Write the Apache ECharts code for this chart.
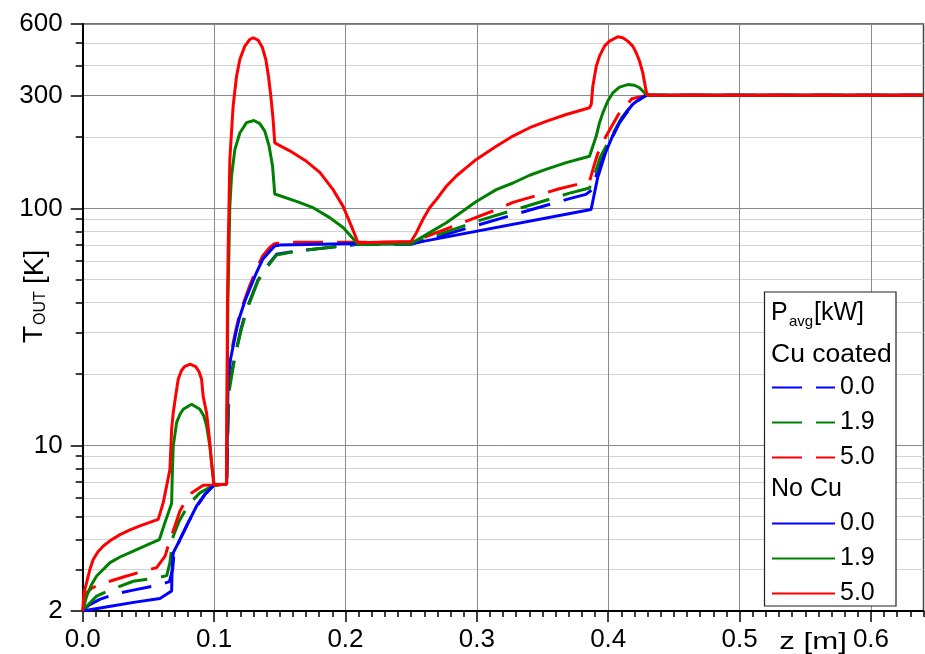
<!DOCTYPE html>
<html>
<head>
<meta charset="utf-8">
<script src="https://cdn.jsdelivr.net/npm/echarts@6/dist/echarts.min.js"></script>
<style>
html,body{margin:0;padding:0;background:#fff;}
#chart{width:925px;height:654px;}
</style>
</head>
<body>
<div id="chart"></div>
<script>
// ---- tick values ----
const xMajorTicks = [0, 0.1, 0.2, 0.3, 0.4, 0.5, 0.6];
const yMajorTicks = [2, 10, 100, 300, 600];
const yMinorTicks = [3, 4, 5, 6, 7, 8, 9, 20, 30, 40, 50, 60, 70, 80, 90, 200, 400, 500];

// ---- legend names ----
const powerLabels = ['0.0', '1.9', '5.0'];

// ---- Cu coated (dashed) : [z (m), T (K)] ----
const cu00 = [[0,2],[0.005,2.12],[0.013,2.24],[0.025,2.36],[0.0385,2.45],[0.0583,2.58],[0.066,2.66],[0.0685,3.0],[0.0695,3.52],[0.074,4.0],[0.0803,4.72],[0.0867,5.5],[0.093,6.2],[0.1,6.8],[0.1095,6.85],[0.1105,12],[0.1115,18],[0.1158,23.8],[0.1205,31],[0.1247,37.5],[0.1335,50],[0.1424,59],[0.1475,64],[0.1627,66],[0.198,69.3],[0.2096,70.5],[0.25,70.5],[0.3022,85.5],[0.3706,110],[0.383,114.6],[0.388,120],[0.392,145],[0.398,175],[0.4086,230],[0.4187,275],[0.4289,300],[0.64,300]];
const cu19 = [[0,2],[0.004,2.12],[0.0106,2.31],[0.0208,2.45],[0.0385,2.67],[0.0583,2.77],[0.064,2.82],[0.0664,3.2],[0.0689,4.14],[0.0735,4.8],[0.0778,5.28],[0.0835,5.85],[0.0892,6.3],[0.1,6.8],[0.1095,6.85],[0.1105,12],[0.1115,17],[0.1158,23.5],[0.1205,30.5],[0.1247,37],[0.1335,49.5],[0.1424,58.5],[0.1475,63.5],[0.1627,66],[0.198,69.5],[0.2096,70.5],[0.25,70.8],[0.3022,89],[0.3706,116],[0.3858,122],[0.389,135],[0.394,165],[0.4,190],[0.41,240],[0.42,282],[0.429,300],[0.64,300]];
const cu50 = [[0,2],[0.001,2.15],[0.003,2.39],[0.007,2.5],[0.013,2.59],[0.0335,2.81],[0.0563,3.05],[0.0627,3.41],[0.0665,4.0],[0.0702,4.57],[0.074,5.28],[0.0785,5.85],[0.0829,6.3],[0.0917,6.78],[0.1,6.8],[0.1095,6.85],[0.11,15],[0.1105,19],[0.1125,23.5],[0.1145,27],[0.117,31.5],[0.1196,36],[0.127,47],[0.132,55],[0.137,63],[0.1424,68.5],[0.146,71],[0.16,72],[0.2096,72],[0.25,72],[0.2718,80],[0.3122,97.5],[0.3275,106],[0.34,111],[0.3628,121],[0.3757,126],[0.3858,130],[0.389,150],[0.392,170],[0.398,200],[0.408,250],[0.418,290],[0.429,300],[0.64,300]];

// ---- No Cu (solid) ----
const noCu00 = [[0,2],[0.02,2.09],[0.04,2.18],[0.0588,2.26],[0.0677,2.43],[0.068,2.95],[0.0689,3.52],[0.074,4.0],[0.0803,4.72],[0.0867,5.55],[0.093,6.21],[0.1,6.8],[0.1095,6.85],[0.1102,12],[0.1107,19.6],[0.1125,23.1],[0.1145,26.2],[0.1171,30.8],[0.1196,35],[0.1234,40.6],[0.127,45.5],[0.1322,53.5],[0.137,61],[0.1424,66],[0.146,69.3],[0.15,70],[0.21,71.1],[0.25,71],[0.387,99],[0.392,135],[0.398,172],[0.4035,203],[0.4086,230],[0.4137,254],[0.4187,275],[0.424,290],[0.429,300],[0.64,300]];
const noCu19 = [[0,2],[0.0017,2.17],[0.003,2.31],[0.0068,2.59],[0.0106,2.81],[0.0208,3.2],[0.0284,3.38],[0.0385,3.58],[0.0487,3.79],[0.0583,4.0],[0.0626,4.72],[0.0677,5.7],[0.0681,7.2],[0.0689,9.9],[0.0715,12.5],[0.074,13.5],[0.0765,14.2],[0.0829,14.9],[0.0892,14.2],[0.0922,13.3],[0.0943,12.1],[0.0968,9.9],[0.0983,8.2],[0.1,6.8],[0.1095,6.85],[0.1105,40],[0.112,102],[0.1133,137],[0.1158,177],[0.1196,208],[0.1247,230],[0.1303,235],[0.1348,228],[0.1386,212],[0.1419,183],[0.1445,151],[0.1462,115],[0.1475,113],[0.1627,107],[0.1754,100.7],[0.188,91.4],[0.1982,83],[0.2096,70.5],[0.25,71],[0.2641,79],[0.2768,87],[0.2895,97.5],[0.2996,107],[0.3148,120],[0.3275,128],[0.3402,138],[0.3526,146],[0.368,156],[0.3858,166],[0.3883,183],[0.3909,202],[0.3934,230],[0.3959,253],[0.3997,284],[0.4035,307],[0.4086,325],[0.4149,333],[0.42,331],[0.4238,323],[0.4289,303],[0.431,300],[0.64,300]];
const noCu50 = [[0,2],[0.001,2.39],[0.003,2.64],[0.0055,3.0],[0.008,3.3],[0.0115,3.55],[0.0157,3.76],[0.022,4.0],[0.0284,4.2],[0.036,4.4],[0.0436,4.57],[0.0505,4.72],[0.0575,4.87],[0.0613,5.73],[0.0664,7.92],[0.0677,11.7],[0.0689,13.7],[0.0707,16.1],[0.0727,19],[0.075,20.6],[0.0775,21.5],[0.0817,22],[0.086,21.5],[0.0885,20.5],[0.0905,19],[0.0917,16.1],[0.0943,13.7],[0.0963,10.9],[0.0981,8.45],[0.1,6.8],[0.1095,6.85],[0.1102,40],[0.1107,65],[0.112,161],[0.1145,270],[0.1171,361],[0.1196,425],[0.1234,484],[0.1272,516],[0.1297,525],[0.1335,513],[0.1368,477],[0.1394,425],[0.1414,361],[0.1432,298],[0.1449,238],[0.1462,189],[0.1475,186],[0.1576,175],[0.1703,158],[0.1805,142],[0.1906,120],[0.1982,102],[0.2046,84],[0.2096,71.6],[0.25,72.5],[0.254,79],[0.259,90],[0.2641,100.7],[0.2692,109],[0.2768,124],[0.2844,137],[0.292,148.5],[0.2996,161],[0.3148,183],[0.3275,202],[0.3402,219],[0.3528,233],[0.368,249],[0.3858,266],[0.3871,275],[0.3883,328],[0.3909,398],[0.3934,439],[0.3972,484],[0.401,508],[0.4073,530],[0.4111,525],[0.4149,508],[0.4187,484],[0.4213,454],[0.4238,419],[0.4263,374],[0.4289,312],[0.4301,300],[0.64,300]];

const FONT = '"Liberation Sans", Arial, sans-serif';
const BLUE = '#0000ff', GREEN = '#008000', RED = '#ff0000';
const DASH = [30, 14];

function mk(name, data, color, dashed) {
  return {
    name: name, type: 'line', data: data, xAxisIndex: 0, yAxisIndex: 0,
    symbol: 'none', smooth: false, animation: false,
    lineStyle: { color: color, width: 3, type: dashed ? DASH : 'solid' },
    itemStyle: { color: color }
  };
}

const series = [
  mk('Cu coated ' + powerLabels[0], cu00, BLUE, true),
  mk('Cu coated ' + powerLabels[1], cu19, GREEN, true),
  mk('Cu coated ' + powerLabels[2], cu50, RED, true),
  mk('No Cu ' + powerLabels[0], noCu00, BLUE, false),
  mk('No Cu ' + powerLabels[1], noCu19, GREEN, false),
  mk('No Cu ' + powerLabels[2], noCu50, RED, false)
];

const legendCommon = {
  orient: 'vertical', left: 771, padding: 0, itemGap: 10, itemWidth: 63, itemHeight: 14,
  selectedMode: false, z: 120,
  itemStyle: { opacity: 0 },
  formatter: function (n) { return n.slice(-3); },
  textStyle: { fontSize: 25, fontFamily: FONT, color: '#000', lineHeight: 24 }
};

const txt = (x, y, text, size, extra) => {
  const o = {
    type: 'text', x: x, y: y, z: 120,
    style: { text: text, fontSize: size, fontFamily: FONT, fill: '#000', verticalAlign: 'middle', align: 'left' }
  };
  if (extra) {
    if (extra.style) { Object.assign(o.style, extra.style); }
    Object.keys(extra).forEach(k => { if (k !== 'style') o[k] = extra[k]; });
  }
  return o;
};

const chart = echarts.init(document.getElementById('chart'), null, { renderer: 'canvas' });
chart.setOption({
  animation: false,
  backgroundColor: '#fff',
  grid: { left: 82.7, right: 1.5, top: 24, bottom: 43, show: true, borderColor: '#444', borderWidth: 1.5, backgroundColor: 'transparent' },
  xAxis: [
    {
      type: 'value', min: 0, max: 0.64, position: 'bottom',
      axisLine: { show: true, onZero: false, lineStyle: { color: '#000', width: 2 } },
      axisTick: { show: true, customValues: xMajorTicks, length: 11, lineStyle: { color: '#000', width: 1.5 } },
      axisLabel: { customValues: xMajorTicks, fontSize: 26, fontFamily: FONT, color: '#000', margin: 16,
        formatter: function (v) { return v.toFixed(1); } },
      splitLine: { show: true, lineStyle: { color: '#8a8a8a', width: 1 } }
    },
    {
      type: 'value', min: 0, max: 0.64, interval: 0.01, position: 'bottom',
      axisLine: { show: false },
      axisTick: { show: true, length: 6, lineStyle: { color: '#000', width: 1.5 } },
      axisLabel: { show: false },
      splitLine: { show: false }
    }
  ],
  yAxis: [
    {
      type: 'log', logBase: 10, min: 2, max: 600, position: 'left',
      axisLine: { show: true, onZero: false, lineStyle: { color: '#000', width: 2 } },
      axisTick: { show: true, customValues: yMajorTicks, length: 12, lineStyle: { color: '#000', width: 1.5 } },
      axisLabel: { customValues: yMajorTicks, fontSize: 26, fontFamily: FONT, color: '#000', margin: 20 },
      splitLine: { show: true, lineStyle: { color: '#8a8a8a', width: 1 } }
    },
    {
      type: 'log', logBase: 10, min: 2, max: 600, position: 'left',
      axisLine: { show: false },
      axisTick: { show: true, customValues: yMinorTicks, length: 7, lineStyle: { color: '#000', width: 1.5 } },
      axisLabel: { show: false },
      splitLine: { show: true, lineStyle: { color: '#d4d4d4', width: 1 } }
    }
  ],
  legend: [
    Object.assign({}, legendCommon, { top: 375, data: series.slice(0, 3).map(s => s.name) }),
    Object.assign({}, legendCommon, { top: 511, data: series.slice(3).map(s => s.name) })
  ],
  graphic: [
    { type: 'rect', z: 110, shape: { x: 764.5, y: 292, width: 131.5, height: 314 },
      style: { fill: '#fff', stroke: '#222', lineWidth: 1.2 } },
    txt(771, 313, 'P', 25),
    txt(789, 322, 'avg', 15),
    txt(814, 313, '[kW]', 25),
    txt(771, 355, 'Cu coated', 25, { scaleX: 1.06 }),
    txt(771, 489, 'No Cu', 25),
    txt(813, 642, 'z [m]', 24, { z: 5, scaleX: 1.3, style: { align: 'center' } }),
    txt(34, 343, 'T', 28, { rotation: Math.PI / 2 }),
    txt(41, 325, 'OUT', 16, { rotation: Math.PI / 2 }),
    txt(35, 284, '[K]', 28, { rotation: Math.PI / 2 })
  ],
  series: series
});
</script>
</body>
</html>
